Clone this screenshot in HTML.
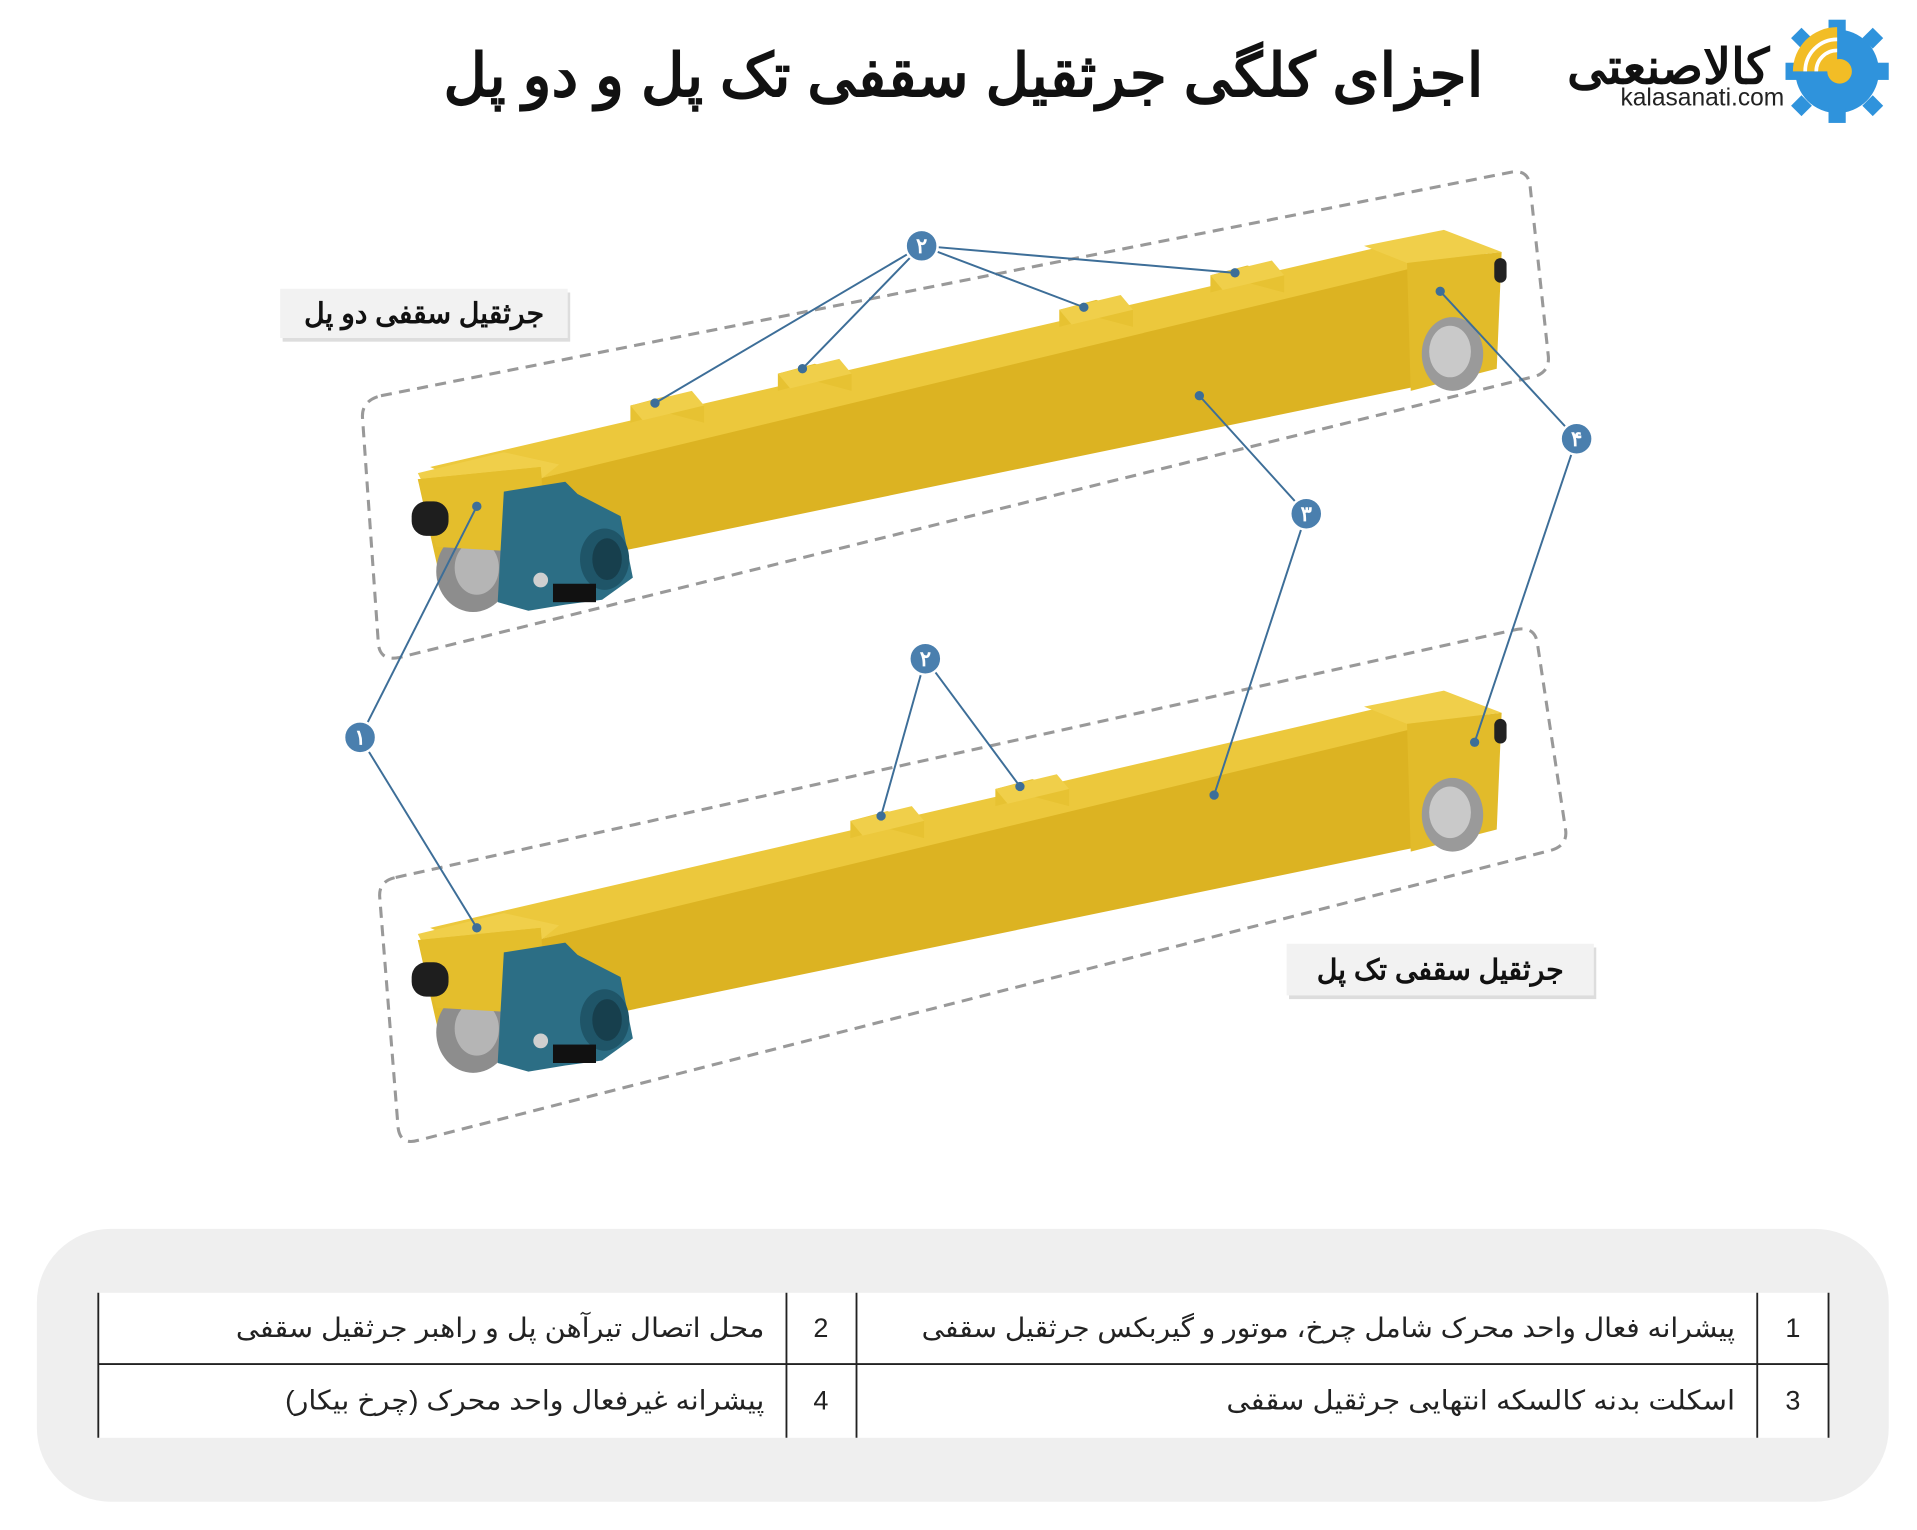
<!DOCTYPE html>
<html><head><meta charset="utf-8">
<style>
html,body{margin:0;padding:0;background:#fff;}
svg{display:block}
text{font-family:"Liberation Sans","Noto Sans CJK SC",sans-serif;}
</style></head>
<body>
<svg width="1917" height="1530" viewBox="0 0 1560 1245" xmlns="http://www.w3.org/2000/svg">
<defs>
<g id="beam">
  <polygon points="350,380 1170,190 1215,205 395,400" fill="#ecc83c"/>
  <polygon points="395,400 1150,218 1150,315 440,462" fill="#dcb322"/>
  <polygon points="1110,200 1175,187 1222,205 1145,214" fill="#f0cf4a"/>
  <polygon points="1145,214 1222,205 1218,300 1148,318" fill="#e2bb2a"/>
  <rect x="1216" y="210" width="10" height="20" rx="5" fill="#222"/>
  <ellipse cx="1182" cy="288" rx="25" ry="30" fill="#9a9a9a"/>
  <ellipse cx="1180" cy="286" rx="17" ry="21" fill="#c9c9c9"/>
  <polygon points="340,385 410,368 455,378 440,390 345,395" fill="#f0cf4a"/>
  <polygon points="340,390 440,380 448,470 358,470" fill="#e2bb2a"/>
  <ellipse cx="385" cy="465" rx="30" ry="33" fill="#8d8d8d"/>
  <ellipse cx="388" cy="462" rx="18" ry="22" fill="#b5b5b5"/>
  <polygon points="340,390 440,380 440,450 355,445" fill="#e4be2c"/>
  <rect x="335" y="408" width="30" height="28" rx="12" fill="#1e1e1e"/>
  <polygon points="410,400 460,392 470,402 505,420 515,470 490,488 460,492 430,497 405,490" fill="#2c6e85"/>
  <ellipse cx="492" cy="455" rx="20" ry="25" fill="#1f5568"/>
  <ellipse cx="494" cy="455" rx="12" ry="17" fill="#173f4d"/>
  <rect x="450" y="475" width="35" height="15" fill="#111"/>
  <circle cx="440" cy="472" r="6" fill="#cfcfcf"/>
</g>
<g id="plate">
  <polygon points="-20,8 10,0 40,8 40,22 10,14 -20,22" fill="#e7c232"/>
  <polygon points="-20,8 30,-4 40,8 -10,20" fill="#f0cf4a"/>
</g>
</defs>

<text x="784" y="78" text-anchor="middle" font-size="49" font-weight="bold" fill="#111">اجزای کلگی جرثقیل سقفی تک پل و دو پل</text>
<text x="1440" y="68" text-anchor="end" font-size="40" font-weight="bold" fill="#111">کالاصنعتی</text>
<text x="1452" y="86" text-anchor="end" font-size="20" fill="#222">kalasanati.com</text>
<circle cx="1495" cy="58" r="34" fill="#2f93dc"/>
<g fill="#2f93dc">
<rect x="1488" y="16" width="14" height="12"/><rect x="1488" y="88" width="14" height="12"/>
<rect x="1453" y="51" width="12" height="14"/><rect x="1525" y="51" width="12" height="14"/>
<rect x="1460" y="25" width="12" height="12" transform="rotate(45 1466 31)"/>
<rect x="1518" y="25" width="12" height="12" transform="rotate(45 1524 31)"/>
<rect x="1460" y="80" width="12" height="12" transform="rotate(45 1466 86)"/>
<rect x="1518" y="80" width="12" height="12" transform="rotate(45 1524 86)"/>
</g>
<path d="M1495,22 A36,36 0 0 0 1459,58 L1495,58 Z" fill="#f2bd26"/>
<circle cx="1497" cy="58" r="10" fill="#f2bd26"/>
<path d="M1478,58 A17,17 0 0 1 1495,41" stroke="#fff" stroke-width="3" fill="none"/>
<path d="M1469,58 A26,26 0 0 1 1495,32" stroke="#fff" stroke-width="3" fill="none"/>

<path d="M310,322 L1230,140 Q1243,138 1245,150 L1260,290 Q1261,302 1250,306 L325,535 Q310,538 308,525 L295,340 Q294,326 310,322 Z" fill="none" stroke="#999" stroke-width="2.5" stroke-dasharray="9,6"/>
<path d="M322,714 L1235,512 Q1249,510 1251,523 L1274,675 Q1276,688 1262,692 L340,928 Q326,932 324,918 L309,730 Q308,717 322,714 Z" fill="none" stroke="#999" stroke-width="2.5" stroke-dasharray="9,6"/>

<use href="#beam"/>
<use href="#plate" x="533" y="322"/>
<use href="#plate" x="653" y="296"/>
<use href="#plate" x="882" y="244"/>
<use href="#plate" x="1005" y="216"/>
<use href="#beam" y="375"/>
<use href="#plate" x="712" y="660"/>
<use href="#plate" x="830" y="634"/>

<g stroke="#3d6e98" stroke-width="1.6" fill="#3d6e98">
<line x1="750" y1="200" x2="533" y2="328"/><line x1="750" y1="200" x2="653" y2="300"/>
<line x1="750" y1="200" x2="882" y2="250"/><line x1="750" y1="200" x2="1005" y2="222"/>
<line x1="1283" y1="357" x2="1172" y2="237"/><line x1="1283" y1="357" x2="1200" y2="604"/>
<line x1="1063" y1="418" x2="976" y2="322"/><line x1="1063" y1="418" x2="988" y2="647"/>
<line x1="293" y1="600" x2="388" y2="412"/><line x1="293" y1="600" x2="388" y2="755"/>
<line x1="753" y1="536" x2="717" y2="664"/><line x1="753" y1="536" x2="830" y2="640"/>
<circle cx="533" cy="328" r="3"/><circle cx="653" cy="300" r="3"/><circle cx="882" cy="250" r="3"/><circle cx="1005" cy="222" r="3"/>
<circle cx="1172" cy="237" r="3"/><circle cx="1200" cy="604" r="3"/><circle cx="976" cy="322" r="3"/><circle cx="988" cy="647" r="3"/>
<circle cx="388" cy="412" r="3"/><circle cx="388" cy="755" r="3"/><circle cx="717" cy="664" r="3"/><circle cx="830" cy="640" r="3"/>
</g>
<g fill="#4a7fae" stroke="#fff" stroke-width="2">
<circle cx="750" cy="200" r="13"/><circle cx="1283" cy="357" r="13"/><circle cx="1063" cy="418" r="13"/>
<circle cx="293" cy="600" r="13"/><circle cx="753" cy="536" r="13"/>
</g>
<g fill="#fff" font-size="17" font-weight="bold" text-anchor="middle">
<text x="750" y="206">۲</text><text x="1283" y="363">۴</text><text x="1063" y="424">۳</text>
<text x="293" y="606">۱</text><text x="753" y="542">۲</text>
</g>

<rect x="230" y="238" width="234" height="40" fill="#bbb" opacity="0.5"/>
<rect x="228" y="235" width="234" height="40" fill="#f2f2f2"/>
<text x="345" y="263" text-anchor="middle" font-size="23" font-weight="bold" fill="#111">جرثقیل سقفی دو پل</text>
<rect x="1049" y="771" width="250" height="42" fill="#bbb" opacity="0.5"/>
<rect x="1047" y="768" width="250" height="42" fill="#f2f2f2"/>
<text x="1172" y="797" text-anchor="middle" font-size="23" font-weight="bold" fill="#111">جرثقیل سقفی تک پل</text>

<rect x="30" y="1000" width="1507" height="222" rx="60" fill="#efefef"/>
<rect x="80" y="1052" width="1408" height="118" fill="#fff"/>
<g stroke="#222" stroke-width="1.5">
<line x1="80" y1="1052" x2="80" y2="1170"/><line x1="640" y1="1052" x2="640" y2="1170"/>
<line x1="697" y1="1052" x2="697" y2="1170"/><line x1="1430" y1="1052" x2="1430" y2="1170"/>
<line x1="1488" y1="1052" x2="1488" y2="1170"/><line x1="80" y1="1110" x2="1488" y2="1110"/>
</g>
<g font-size="22" fill="#222">
<text x="1459" y="1088" text-anchor="middle">1</text>
<text x="1459" y="1147" text-anchor="middle">3</text>
<text x="668" y="1088" text-anchor="middle">2</text>
<text x="668" y="1147" text-anchor="middle">4</text>
<text x="1412" y="1088" text-anchor="end" textLength="662" lengthAdjust="spacingAndGlyphs">پیشرانه فعال واحد محرک شامل چرخ، موتور و گیربکس جرثقیل سقفی</text>
<text x="1412" y="1147" text-anchor="end" textLength="414" lengthAdjust="spacingAndGlyphs">اسکلت بدنه کالسکه انتهایی جرثقیل سقفی</text>
<text x="622" y="1088" text-anchor="end" textLength="430" lengthAdjust="spacingAndGlyphs">محل اتصال تیرآهن پل و راهبر جرثقیل سقفی</text>
<text x="622" y="1147" text-anchor="end" textLength="390" lengthAdjust="spacingAndGlyphs">پیشرانه غیرفعال واحد محرک (چرخ بیکار)</text>
</g>
</svg>
</body></html>
